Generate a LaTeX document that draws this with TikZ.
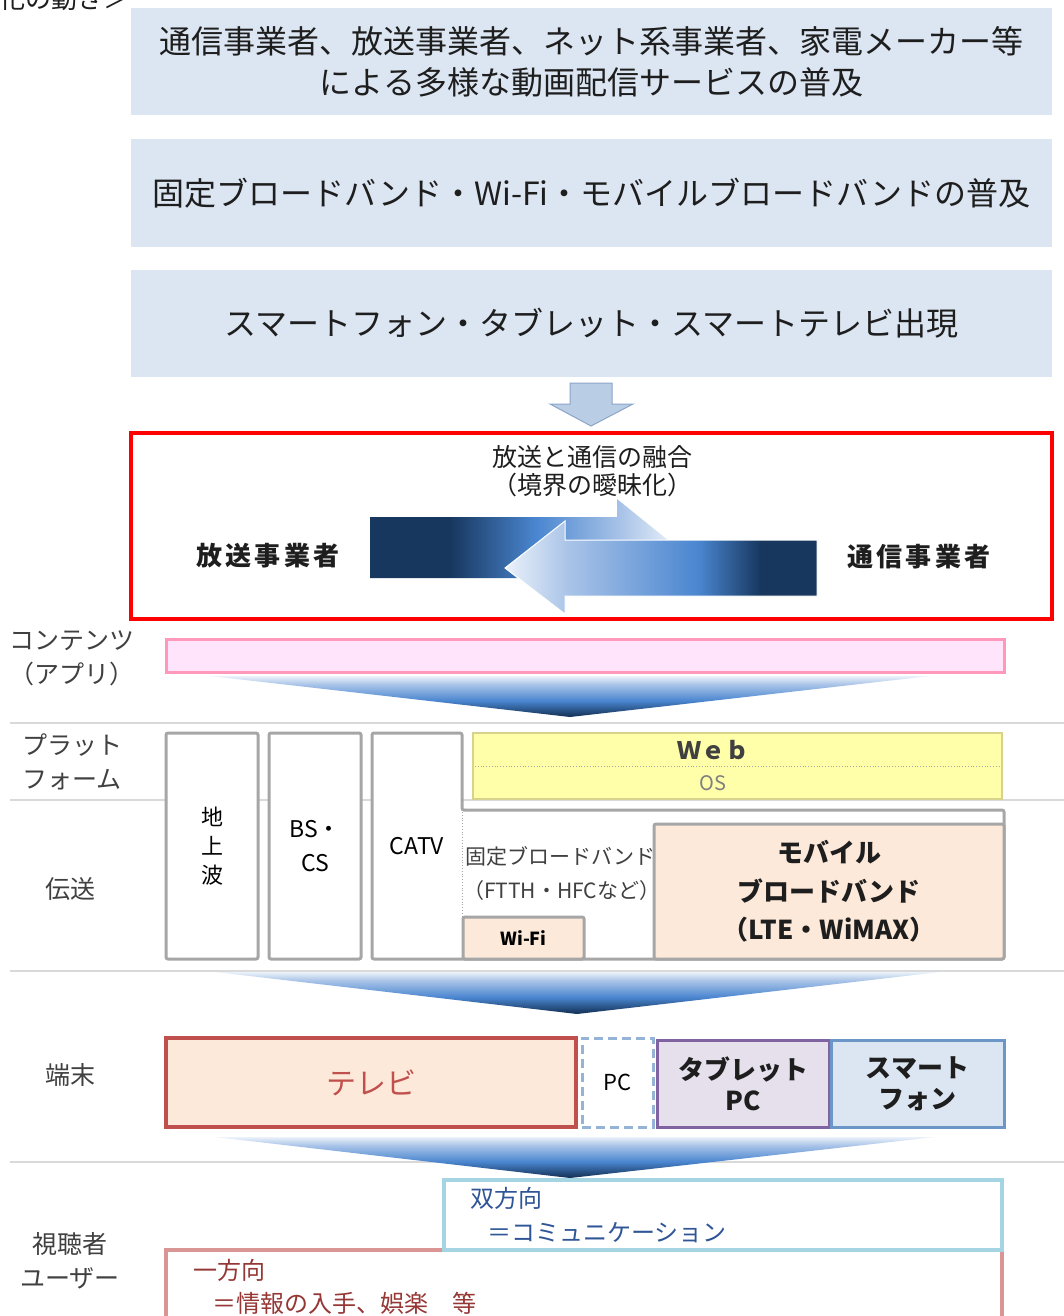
\documentclass[tikz,border=0pt]{standalone}
\usepackage{fontspec}
\setmainfont{Noto Sans CJK JP}
\definecolor{topfill}{RGB}{220,230,242}
\definecolor{darktext}{RGB}{30,30,30}
\definecolor{labelgray}{RGB}{64,64,64}
\definecolor{navy}{RGB}{23,55,94}
\definecolor{midblue}{RGB}{74,134,208}
\definecolor{lightblue}{RGB}{170,196,232}
\definecolor{paleblue}{RGB}{235,242,250}
\definecolor{arrowfill}{RGB}{185,205,229}
\definecolor{arrowline}{RGB}{140,165,200}
\definecolor{boxgray}{RGB}{166,166,166}
\definecolor{sepgray}{RGB}{217,217,217}
\definecolor{peach}{RGB}{253,233,217}
\definecolor{pinkfill}{RGB}{255,228,252}
\definecolor{pinkline}{RGB}{255,153,187}
\definecolor{webfill}{RGB}{255,255,170}
\definecolor{webline}{RGB}{215,210,140}
\definecolor{tvred}{RGB}{192,80,77}
\definecolor{pcblue}{RGB}{149,179,215}
\definecolor{tabfill}{RGB}{229,224,236}
\definecolor{tabline}{RGB}{128,100,162}
\definecolor{spline}{RGB}{108,149,200}
\definecolor{tealline}{RGB}{165,213,226}
\definecolor{bluetext}{RGB}{47,85,151}
\definecolor{onewayline}{RGB}{218,150,148}
\definecolor{redtext}{RGB}{149,55,53}
\definecolor{ostext}{RGB}{127,127,127}
\pgfdeclarehorizontalshading{rarrowshade}{100bp}{color(0bp)=(navy); color(38bp)=(navy); color(52bp)=(midblue); color(66bp)=(lightblue); color(75bp)=(paleblue); color(100bp)=(paleblue)}
\pgfdeclarehorizontalshading{larrowshade}{100bp}{color(0bp)=(paleblue); color(25bp)=(paleblue); color(35bp)=(lightblue); color(56bp)=(midblue); color(66bp)=(navy); color(100bp)=(navy)}
\pgfdeclareverticalshading{funnelshade}{100bp}{color(0bp)=(navy); color(27bp)=(navy); color(45bp)=(midblue); color(65bp)=(lightblue); color(75bp)=(paleblue); color(100bp)=(paleblue)}
\tikzset{
  topbox/.style={fill=topfill, minimum width=921pt, minimum height=107pt, inner sep=0pt, text=darktext, align=center, font=\fontsize{32}{41}\selectfont},
  sidelbl/.style={text=labelgray, align=center, font=\fontsize{25}{34}\selectfont, inner sep=0pt},
  graybox/.style={draw=boxgray, line width=3pt, fill=white, rounded corners=2pt, inner sep=0pt},
  bigbold/.style={text=darktext, inner sep=0pt, font=\fontsize{26}{30}\selectfont\bfseries\addfontfeature{LetterSpace=12}},
  boldtxt/.style={text=darktext, align=center, font=\fontsize{26}{#1}\selectfont\bfseries},
  sep/.style={draw=sepgray, line width=2pt},
  funnel/.style={shading=funnelshade},
  usertxt/.style={anchor=west, inner sep=0pt, font=\fontsize{24}{30}\selectfont},
}
\begin{document}
\begin{tikzpicture}[x=1pt, y=-1pt]
\useasboundingbox (0,0) rectangle (1064,1316);
\clip (0,0) rectangle (1064,1316);
\fill[white] (0,0) rectangle (1064,1316);

% caption fragment (cut off at the top edge, as in the reference)
\node[anchor=east, inner sep=0pt, text=darktext, font=\fontsize{26}{30}\selectfont] (cap) at (130,-1) {化の動き＞};

% top boxes
\node[topbox] (b1) at (591.5,61.5) {通信事業者、放送事業者、ネット系事業者、家電メーカー等\\による多様な動画配信サービスの普及};
\node[topbox] (b2) at (591.5,193) {固定ブロードバンド・Wi-Fi・モバイルブロードバンドの普及};
\node[topbox] (b3) at (591.5,323.5) {スマートフォン・タブレット・スマートテレビ出現};

% down block arrow
\draw[fill=arrowfill, draw=arrowline, line width=1pt] (570,383) -- (612,383) -- (612,404) -- (633,404) -- (591,426) -- (550,404) -- (570,404) -- cycle;

% red box
\node[draw=red, line width=4pt, minimum width=921pt, minimum height=186pt, inner sep=0pt] (conv) at (591.5,526) {};
\node[text=darktext, align=center, inner sep=0pt, font=\fontsize{25}{28}\selectfont] (fusion) at (592,471) {放送と通信の融合\\（境界の曖昧化）};
\node[bigbold] (bcast) at (268,556) {放送事業者};
\node[bigbold] (telco) at (919,557) {通信事業者};
\shade[shading=rarrowshade] (370,517) -- (617,517) -- (617,499) -- (677,547.5) -- (617,596) -- (617,578) -- (370,578) -- cycle;
\shade[shading=larrowshade, draw=white, line width=1pt] (817,540) -- (565,540) -- (565,521) -- (505,568) -- (565,614) -- (565,596) -- (817,596) -- cycle;

% separator lines
\draw[sep] (10,723) -- (1064,723);
\draw[sep] (10,800) -- (1064,800);
\draw[sep] (10,971) -- (1064,971);
\draw[sep] (10,1162) -- (1064,1162);

% side labels
\node[sidelbl] (l1) at (72,658) {コンテンツ\\（アプリ）};
\node[sidelbl] (l2) at (72,762) {プラット\\フォーム};
\node[sidelbl] (l3) at (70,889) {伝送};
\node[sidelbl] (l4) at (70,1075) {端末};
\node[sidelbl] (l5) at (70,1261) {視聴者\\ユーザー};

% contents
\node[fill=pinkfill, draw=pinkline, line width=3pt, minimum width=838pt, minimum height=33pt, inner sep=0pt] (cont) at (585,655.5) {};
\shade[funnel] (210,676) -- (930,676) -- (570,717) -- cycle;

% platform / transmission
\node[graybox, minimum width=92pt, minimum height=226pt, align=center, font=\fontsize{22}{29}\selectfont] (terr) at (212,846) {地\\上\\波};
\node[graybox, minimum width=92pt, minimum height=226pt, align=center, font=\fontsize{23}{34}\selectfont] (bscs) at (315,846) {BS・\\CS};
\draw[graybox] (372,733) -- (462,733) -- (462,810) -- (1004,810) -- (1004,959) -- (372,959) -- cycle;
\node[inner sep=0pt, font=\fontsize{23}{28}\selectfont] (catv) at (417,846) {CATV};
\draw[boxgray, dotted, line width=0.8pt] (462,812) -- (462,917);
\node[anchor=west, inner sep=0pt, text=labelgray, font=\fontsize{21}{26}\selectfont] (fixed) at (465,856) {固定ブロードバンド};
\node[anchor=west, inner sep=0pt, text=labelgray, font=\fontsize{21}{26}\selectfont] (ftth) at (463,891) {（FTTH・HFCなど）};
\node[graybox, fill=peach, minimum width=121pt, minimum height=42pt, font=\fontsize{18}{22}\selectfont\bfseries] (wifi) at (523.5,938) {Wi-Fi};
\node[graybox, fill=peach, minimum width=350pt, minimum height=135pt, boldtxt=38.5] (mobile) at (829,891.5) {モバイル\\ブロードバンド\\（LTE・WiMAX）};
\node[fill=webfill, draw=webline, line width=2pt, minimum width=529pt, minimum height=66pt, inner sep=0pt] (web) at (737.5,766) {};
\draw[boxgray, dotted, line width=0.8pt] (475,766) -- (1000,766);
\node[inner sep=0pt, text=labelgray, font=\fontsize{24}{28}\selectfont\bfseries] (webtxt) at (713,750) {Ｗｅｂ};
\node[inner sep=0pt, text=ostext, font=\fontsize{20}{24}\selectfont] (os) at (713,783) {OS};
\shade[funnel] (215,972) -- (940,972) -- (577,1014) -- cycle;

% terminals
\node[fill=peach, draw=tvred, line width=4pt, minimum width=410pt, minimum height=89pt, inner sep=0pt, text=tvred, font=\fontsize{30}{36}\selectfont] (tv) at (371,1082.5) {テレビ};
\node[fill=white, draw=pcblue, dash pattern=on 9pt off 5pt, line width=3pt, minimum width=71pt, minimum height=89pt, inner sep=0pt, font=\fontsize{22}{26}\selectfont] (pc) at (617.5,1082.5) {PC};
\node[fill=tabfill, draw=tabline, line width=3pt, minimum width=172pt, minimum height=87pt, inner sep=0pt, boldtxt=31] (tab) at (743,1083.5) {タブレット\\PC};
\node[fill=topfill, draw=spline, line width=3pt, minimum width=173pt, minimum height=87pt, inner sep=0pt, boldtxt=31] (sp) at (917.5,1083.5) {スマート\\フォン};
\shade[funnel] (215,1137) -- (935,1137) -- (570,1178) -- cycle;

% users
\node[fill=white, draw=onewayline, line width=4pt, minimum width=836pt, minimum height=100pt, inner sep=0pt] (oneway) at (584,1300) {};
\node[usertxt, text=redtext] (ow1) at (193,1270) {一方向};
\node[usertxt, text=redtext] (ow2) at (212,1303) {＝情報の入手、娯楽　等};
\node[fill=white, draw=tealline, line width=4pt, minimum width=558pt, minimum height=70pt, inner sep=0pt] (bidir) at (723,1215) {};
\node[usertxt, text=bluetext] (bd1) at (470,1198) {双方向};
\node[usertxt, text=bluetext] (bd2) at (487,1233) {＝コミュニケーション};
\end{tikzpicture}
\end{document}
